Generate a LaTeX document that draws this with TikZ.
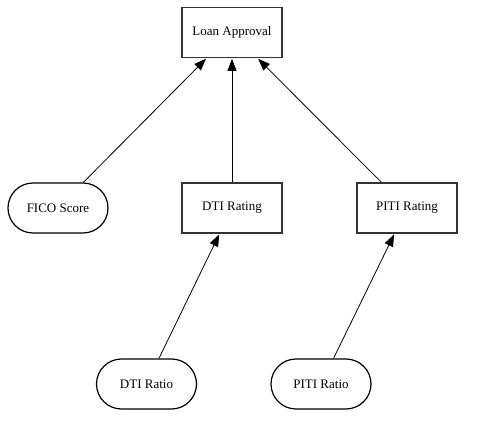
\documentclass[tikz,border=0pt]{standalone}
\usepackage{fontspec}
\setmainfont{Liberation Serif}
\usetikzlibrary{arrows.meta,shapes.misc}
\begin{document}
\begin{tikzpicture}[x=1pt,y=-1pt,
  rectbox/.style={draw=black!80,line width=1.8pt,rectangle,minimum width=100pt,minimum height=50pt,inner sep=0pt,font=\fontsize{13}{15}\selectfont},
  pill/.style={draw=black,line width=1.2pt,rounded rectangle,minimum width=100pt,minimum height=50pt,inner sep=0pt,font=\fontsize{13}{15}\selectfont},
  edge/.style={draw=black,line width=0.8pt,-{Triangle[length=12pt,width=9pt]},shorten >=0.5pt}
]
\useasboundingbox (0,0) rectangle (485,436);
\node[rectbox] (loan) at (232,32.5) {Loan Approval};
\node[pill] (fico) at (58,208) {FICO Score};
\node[rectbox] (dtir) at (232,208) {DTI Rating};
\node[rectbox] (pitir) at (407,208) {PITI Rating};
\node[pill] (dtiq) at (146.5,384) {DTI Ratio};
\node[pill] (pitiq) at (321,384) {PITI Ratio};
\draw[edge] (fico) -- (loan);
\draw[edge] (dtir) -- (loan);
\draw[edge] (pitir) -- (loan);
\draw[edge] (dtiq) -- (dtir);
\draw[edge] (pitiq) -- (pitir);
\end{tikzpicture}
\end{document}
